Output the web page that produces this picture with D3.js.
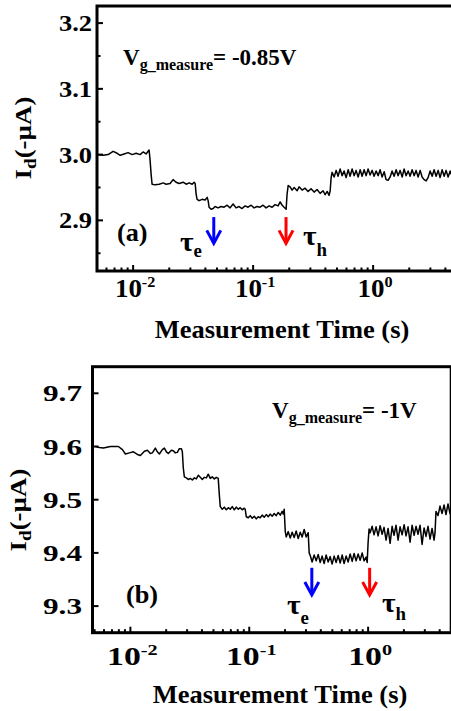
<!DOCTYPE html>
<html>
<head>
<meta charset="utf-8">
<script src="https://cdnjs.cloudflare.com/ajax/libs/d3/7.8.5/d3.min.js"></script>
<style>
    body { margin: 0; background: #fff; }
    svg { display: block; }
    text { font-family: "Liberation Serif", "Times New Roman", serif; font-weight: bold; fill: #000; }
</style>
</head>
<body>
<div id="chart"></div>
<script>

// ---- panel (a): Vg_measure = -0.85 V, time read as log10(seconds) ----
const logTimeA = [
    -2.300, -2.250, -2.208, -2.167, -2.133, -2.108, -2.075, -2.042, -2.008, -1.975, -1.942, -1.917, -1.892, -1.867,
    -1.858, -1.850, -1.842,
    -1.817, -1.783, -1.750, -1.725, -1.692, -1.667, -1.642, -1.617, -1.583, -1.558, -1.533, -1.508, -1.492, -1.483,
    -1.475, -1.467,
    -1.450, -1.425, -1.400, -1.383, -1.375,
    -1.367, -1.350,
    -1.333, -1.317, -1.292, -1.267, -1.242, -1.217, -1.192, -1.167, -1.142, -1.117, -1.092, -1.067, -1.042, -1.017,
    -0.992, -0.967, -0.942, -0.917, -0.892, -0.867, -0.842, -0.817, -0.792, -0.775, -0.758, -0.742, -0.725,
    -0.717, -0.708,
    -0.692, -0.675, -0.658, -0.633, -0.617, -0.592, -0.567, -0.542, -0.517, -0.492, -0.467, -0.442, -0.417, -0.400,
    -0.383, -0.367, -0.358,
    -0.350, -0.342,
    -0.325, -0.308, -0.292, -0.275, -0.258, -0.242, -0.225, -0.208, -0.192, -0.175, -0.158, -0.142, -0.125, -0.108,
    -0.092, -0.075, -0.058, -0.042, -0.025, -0.008, 0.008, 0.025, 0.042, 0.058, 0.075, 0.092, 0.108, 0.125, 0.142,
    0.158, 0.175, 0.192, 0.208, 0.225, 0.242, 0.258, 0.275, 0.292, 0.308, 0.325, 0.342, 0.358, 0.375, 0.392, 0.408,
    0.425, 0.442, 0.458, 0.475, 0.492, 0.508, 0.525, 0.542, 0.558, 0.575, 0.592, 0.608, 0.625, 0.642, 0.658
];
const currentA = [
    3.000, 2.999, 3.000, 3.005, 3.002, 2.999, 3.001, 3.003, 3.000, 3.002, 3.000, 3.004, 3.001, 3.007,
    2.990, 2.970, 2.955,
    2.954, 2.955, 2.957, 2.955, 2.956, 2.962, 2.958, 2.956, 2.958, 2.955, 2.957, 2.955, 2.958, 2.956,
    2.940, 2.932,
    2.930, 2.932, 2.931, 2.935, 2.930,
    2.920, 2.917,
    2.918, 2.921, 2.919, 2.921, 2.920, 2.923, 2.919, 2.925, 2.919, 2.921, 2.918, 2.922, 2.920, 2.923,
    2.919, 2.921, 2.920, 2.923, 2.919, 2.922, 2.920, 2.924, 2.922, 2.928, 2.923, 2.920, 2.917,
    2.940, 2.953,
    2.951, 2.946, 2.950, 2.945, 2.951, 2.946, 2.949, 2.944, 2.948, 2.943, 2.947, 2.941, 2.945, 2.939,
    2.944, 2.938, 2.945,
    2.965, 2.973,
    2.966, 2.976, 2.967, 2.978, 2.968, 2.975, 2.965, 2.977, 2.967, 2.978, 2.968, 2.976, 2.966, 2.977,
    2.967, 2.977, 2.968, 2.978, 2.969, 2.976, 2.967, 2.975, 2.968, 2.977, 2.966, 2.974, 2.962, 2.961, 2.966,
    2.975, 2.967, 2.977, 2.968, 2.976, 2.966, 2.978, 2.968, 2.975, 2.967, 2.977, 2.968, 2.976, 2.966, 2.976,
    2.966, 2.962, 2.960, 2.965, 2.975, 2.967, 2.977, 2.967, 2.976, 2.965, 2.977, 2.967, 2.976, 2.966, 2.975, 2.967
];

// ---- panel (b): Vg_measure = -1 V ----
const logTimeB = [
    -2.294, -2.261, -2.227, -2.168, -2.101, -2.067, -2.042, -2.008, -1.975, -1.941, -1.916, -1.882, -1.857, -1.832,
    -1.815, -1.790, -1.773, -1.756, -1.731, -1.714, -1.697, -1.681, -1.655, -1.639, -1.622, -1.605, -1.588, -1.571,
    -1.563, -1.555, -1.546,
    -1.529, -1.513, -1.496, -1.479, -1.462, -1.445, -1.429, -1.412, -1.395, -1.378, -1.361, -1.345, -1.328, -1.311,
    -1.294, -1.277, -1.261, -1.252, -1.244,
    -1.227, -1.210, -1.193, -1.176, -1.160, -1.143, -1.126, -1.109, -1.092, -1.076, -1.059, -1.042, -1.034, -1.025,
    -1.008, -0.992, -0.975, -0.958, -0.941, -0.924, -0.908, -0.891, -0.874, -0.857, -0.840, -0.824, -0.807, -0.790,
    -0.773, -0.756, -0.739, -0.723, -0.714, -0.706, -0.697,
    -0.689, -0.672, -0.655, -0.639, -0.622, -0.605, -0.588, -0.571, -0.555, -0.538, -0.521, -0.504, -0.496,
    -0.487, -0.471, -0.454, -0.437, -0.420, -0.403, -0.387, -0.370, -0.353, -0.336, -0.319, -0.303, -0.286, -0.269,
    -0.252, -0.235, -0.218, -0.202, -0.185, -0.168, -0.151, -0.134, -0.118, -0.101, -0.084, -0.067, -0.050, -0.034,
    -0.017, -0.008, 0.000, 0.008,
    0.017, 0.034, 0.050, 0.067, 0.084, 0.101, 0.118, 0.134, 0.151, 0.168, 0.185, 0.202, 0.218, 0.235, 0.252, 0.269,
    0.286, 0.303, 0.319, 0.336, 0.353, 0.370, 0.387, 0.403, 0.420, 0.437, 0.454, 0.471, 0.487, 0.504, 0.521, 0.538,
    0.555, 0.563, 0.571,
    0.588, 0.605, 0.622, 0.639, 0.655, 0.672, 0.689, 0.706
];
const currentB = [
    9.600, 9.598, 9.597, 9.600, 9.600, 9.594, 9.586, 9.588, 9.590, 9.585, 9.583, 9.591, 9.593, 9.587,
    9.588, 9.597, 9.590, 9.586, 9.594, 9.597, 9.590, 9.587, 9.593, 9.592, 9.588, 9.589, 9.596, 9.596,
    9.590, 9.560, 9.543,
    9.541, 9.538, 9.540, 9.537, 9.541, 9.539, 9.546, 9.542, 9.538, 9.542, 9.541, 9.548, 9.540, 9.543,
    9.539, 9.542, 9.540, 9.510, 9.487,
    9.482, 9.486, 9.481, 9.485, 9.482, 9.487, 9.481, 9.486, 9.482, 9.485, 9.481, 9.484, 9.482, 9.468,
    9.466, 9.470, 9.465, 9.469, 9.464, 9.468, 9.466, 9.471, 9.467, 9.472, 9.468, 9.473, 9.469, 9.474,
    9.470, 9.476, 9.471, 9.478, 9.473, 9.482, 9.440,
    9.430, 9.440, 9.428, 9.439, 9.429, 9.441, 9.427, 9.439, 9.430, 9.444, 9.430, 9.438, 9.400,
    9.395, 9.383, 9.396, 9.385, 9.397, 9.382, 9.394, 9.380, 9.396, 9.383, 9.393, 9.379, 9.394, 9.382,
    9.395, 9.381, 9.396, 9.380, 9.394, 9.383, 9.398, 9.384, 9.399, 9.385, 9.398, 9.386, 9.400, 9.385,
    9.392, 9.382, 9.420, 9.445,
    9.438, 9.450, 9.434, 9.449, 9.432, 9.451, 9.435, 9.448, 9.424, 9.446, 9.418, 9.450, 9.433, 9.452, 9.424, 9.449,
    9.434, 9.453, 9.432, 9.449, 9.420, 9.452, 9.433, 9.450, 9.435, 9.452, 9.416, 9.447, 9.431, 9.450, 9.426, 9.446,
    9.424, 9.438, 9.478,
    9.470, 9.488, 9.474, 9.490, 9.472, 9.492, 9.474, 9.486
];

// ---- ticks ----
const xMajorTicks = [0.01, 0.1, 1];
const xTickExponents = ["-2", "-1", "0"];
const xMinorTicks = [0.005, 0.006, 0.007, 0.008, 0.009, 0.02, 0.03, 0.04, 0.05, 0.06, 0.07, 0.08, 0.09,
    0.2, 0.3, 0.4, 0.5, 0.6, 0.7, 0.8, 0.9, 2, 3, 4, 5];
const yTicksA = [2.9, 3.0, 3.1, 3.2];
const yMinorA = [2.85, 2.95, 3.05, 3.15];
const yTicksB = [9.3, 9.4, 9.5, 9.6, 9.7];
const yMinorB = [];

// arrow times (s): electron emission, hole capture
const arrowTimesA = [0.047, 0.188];
const arrowTimesB = [0.336, 1.03];


const svg = d3.select("#chart").append("svg")
    .attr("width", 451)
    .attr("height", 711);

// text in a stretched group, so the wide bold serif look is kept
function addText(parent, x, y, size, sx, anchor, rotate) {
    return parent.append("g")
        .attr("transform", `translate(${x},${y})${rotate ? " rotate(-90)" : ""} scale(${sx},1)`)
        .append("text")
        .attr("text-anchor", anchor)
        .style("font-size", size + "px");
}


class TracePanel {

    constructor(svg, cfg) {
        this.svg = svg;
        this.cfg = cfg;
        this.initVis();
    }

    initVis() {
        let vis = this;
        let c = vis.cfg;

        vis.g = vis.svg.append("g").attr("class", "panel-" + c.id);

        vis.x = d3.scaleLog().domain(c.xDomain).range([c.left, c.right]);
        vis.y = d3.scaleLinear().domain(c.yDomain).range([c.bottom, c.top]);

        vis.g.append("clipPath")
            .attr("id", "clip-" + c.id)
            .append("rect")
            .attr("x", c.left).attr("y", c.top)
            .attr("width", c.right - c.left).attr("height", c.bottom - c.top);

        vis.data = c.logTime.map((lt, i) => ({t: Math.pow(10, lt), v: c.current[i]}));

        vis.line = d3.line()
            .x(d => vis.x(d.t))
            .y(d => vis.y(d.v));

        vis.g.append("path")
            .datum(vis.data)
            .attr("clip-path", `url(#clip-${c.id})`)
            .attr("fill", "none")
            .attr("stroke", "#000")
            .attr("stroke-width", 1.5)
            .attr("stroke-linejoin", "round")
            .attr("d", vis.line);

        // inward ticks
        let ticks = vis.g.append("g").attr("stroke", "#000").attr("stroke-width", 2);
        ticks.selectAll(".ymaj").data(c.yTicks).enter().append("line")
            .attr("x1", c.left).attr("x2", c.left + 6)
            .attr("y1", d => vis.y(d)).attr("y2", d => vis.y(d));
        ticks.selectAll(".ymin").data(c.yMinor).enter().append("line")
            .attr("x1", c.left).attr("x2", c.left + 3.5)
            .attr("y1", d => vis.y(d)).attr("y2", d => vis.y(d));
        ticks.selectAll(".xmaj").data(xMajorTicks).enter().append("line")
            .attr("x1", d => vis.x(d)).attr("x2", d => vis.x(d))
            .attr("y1", c.bottom).attr("y2", c.bottom - 6);
        ticks.selectAll(".xmin").data(xMinorTicks).enter().append("line")
            .attr("x1", d => vis.x(d)).attr("x2", d => vis.x(d))
            .attr("y1", c.bottom).attr("y2", c.bottom - 3.5);

        // frame
        vis.g.append("rect")
            .attr("x", c.left).attr("y", c.top)
            .attr("width", c.right - c.left).attr("height", c.bottom - c.top)
            .attr("fill", "none")
            .attr("stroke", "#000")
            .attr("stroke-width", 3);

        // y tick labels
        c.yTicks.forEach(d => {
            addText(vis.g, c.yLabelRight, vis.y(d) + 8, c.tickSize, c.tickSx, "end")
                .text(d3.format(".1f")(d));
        });

        // x tick labels 10^n
        xMajorTicks.forEach((d, i) => {
            let t = addText(vis.g, vis.x(d) + 2, c.xLabelY, c.xTickSize, c.xTickSx, "middle");
            t.append("tspan").text("10");
            t.append("tspan").attr("dy", -10).style("font-size", "15px").text(xTickExponents[i]);
        });

        // axis titles
        addText(vis.g, c.xTitle[0], c.xTitle[1], 25, 1.06, "middle").text("Measurement Time (s)");

        let yt = addText(vis.g, c.yTitle[0], c.yTitle[1], 24, 1.12, "middle", true);
        yt.append("tspan").text("I");
        yt.append("tspan").attr("dy", 5).style("font-size", "17px").text("d");
        yt.append("tspan").attr("dy", -5).text("(-\u00b5A)");

        // gate voltage
        let vg = addText(vis.g, c.vgPos[0], c.vgPos[1], 23, 1, "start");
        vg.append("tspan").text("V");
        vg.append("tspan").attr("dy", 5).style("font-size", "16px").text("g_measure");
        vg.append("tspan").attr("dy", -5).text(c.vgText);

        addText(vis.g, c.tagPos[0], c.tagPos[1], 25, 1.05, "start").text(c.tag);

        vis.drawArrows();
    }

    drawArrows() {
        let vis = this;
        let c = vis.cfg;
        let colors = ["#0000ff", "#ff0000"];

        c.arrowTimes.forEach((t, i) => {
            let ax = vis.x(t);
            let y0 = vis.y(c.arrowRange[0]);
            let y1 = vis.y(c.arrowRange[1]);
            let a = vis.g.append("g")
                .attr("fill", "none")
                .attr("stroke", colors[i])
                .attr("stroke-width", 3);
            a.append("line").attr("x1", ax).attr("x2", ax).attr("y1", y0).attr("y2", y1 - 1);
            a.append("path").attr("d", `M${ax - 7},${y1 - 13}L${ax},${y1}L${ax + 7},${y1 - 13}`);
        });

        c.tauLabels.forEach(lab => {
            let t = addText(vis.g, lab.x, lab.y, 28, 1.05, "start");
            t.append("tspan").text("\u03c4");
            t.append("tspan").attr("dy", lab.dy).style("font-size", "18px").text(lab.sub);
        });
    }
}


new TracePanel(svg, {
    id: "a",
    logTime: logTimeA, current: currentA,
    xDomain: [0.005, 5], yDomain: [2.823, 3.226],
    left: 97, right: 457, top: 6, bottom: 271,
    yTicks: yTicksA, yMinor: yMinorA,
    yLabelRight: 92, tickSize: 23, tickSx: 1.15, xTickSize: 25, xTickSx: 1.08, xLabelY: 297,
    xTitle: [282, 338], yTitle: [31, 138],
    vgPos: [123, 65], vgText: "= -0.85V",
    tag: "(a)", tagPos: [117, 241],
    arrowTimes: arrowTimesA, arrowRange: [2.905, 2.865],
    tauLabels: [{x: 180, y: 251, sub: "e", dy: 6}, {x: 303, y: 245, sub: "h", dy: 11}]
});

new TracePanel(svg, {
    id: "b",
    logTime: logTimeB, current: currentB,
    xDomain: [0.0048, 5], yDomain: [9.25, 9.75],
    left: 92.5, right: 451.2, top: 366.7, bottom: 632.7,
    yTicks: yTicksB, yMinor: yMinorB,
    yLabelRight: 82, tickSize: 24, tickSx: 1.3, xTickSize: 25, xTickSx: 1.35, xLabelY: 665,
    xTitle: [280, 703], yTitle: [26, 510],
    vgPos: [272, 418], vgText: "= -1V",
    tag: "(b)", tagPos: [126, 603],
    arrowTimes: arrowTimesB, arrowRange: [9.372, 9.321],
    tauLabels: [{x: 287, y: 614, sub: "e", dy: 10}, {x: 382, y: 612, sub: "h", dy: 8}]
});

</script>
</body>
</html>
